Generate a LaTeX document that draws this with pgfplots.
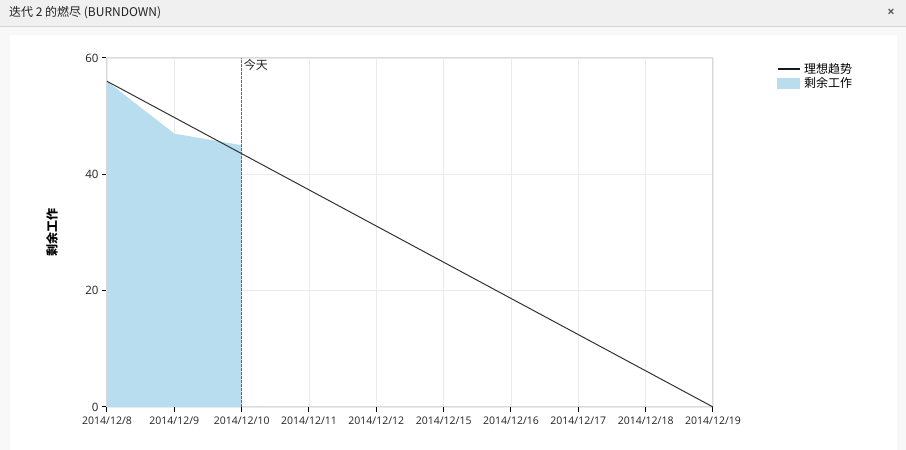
\documentclass[border=0pt]{standalone}
\usepackage{pgfplots}
\pgfplotsset{compat=1.18}
\usepackage{fontspec}
\setmainfont{Open Sans}
\newfontfamily\cjk{Noto Sans CJK SC}
\definecolor{areablue}{RGB}{183,221,238}
\definecolor{outerbg}{RGB}{248,248,248}
\definecolor{titlebg}{RGB}{240,240,240}
\definecolor{titleline}{RGB}{215,215,215}
\definecolor{txt}{RGB}{34,34,34}
\definecolor{gridc}{RGB}{235,235,235}
\definecolor{axc}{RGB}{218,218,218}
\definecolor{todayc}{RGB}{205,60,75}
\begin{document}
\begin{tikzpicture}[x=1pt,y=1pt]
\useasboundingbox (0,0) rectangle (906,450);
\fill[outerbg] (0,0) rectangle (906,450);
\fill[titlebg] (0,423) rectangle (906,450);
\draw[titleline, line width=1pt] (0,423) -- (906,423);
\fill[white] (10,0) rectangle (897,415);
\node[anchor=west, inner sep=0pt, text=txt, font=\cjk\fontsize{12}{14}\selectfont] at (9,437) {迭代 2 的燃尽 (BURNDOWN)};
\node[inner sep=0pt, text=black!65, font=\bfseries\fontsize{13}{14}\selectfont] at (891,437) {×};
\begin{axis}[
  at={(107pt,43pt)}, anchor=south west,
  scale only axis, width=606pt, height=349pt,
  xmin=0, xmax=9, ymin=0, ymax=60,
  xtick={0,...,9},
  xticklabels={2014/12/8,2014/12/9,2014/12/10,2014/12/11,2014/12/12,2014/12/15,2014/12/16,2014/12/17,2014/12/18,2014/12/19},
  ytick={0,20,40,60},
  /pgf/number format/assume math mode=true,
  ticklabel style={font=\fontsize{10.5}{12}\selectfont, text=txt},
  yticklabel style={font=\fontsize{11.5}{12}\selectfont},
  tick align=outside,
  major tick length=5pt,
  major tick style={black, line width=1pt},
  axis line style={axc, line width=1pt},
  grid=major,
  major grid style={gridc, line width=0.8pt},
  xtick pos=bottom, ytick pos=left,
  xticklabel style={yshift=-1pt},
  ylabel={\bfseries 剩余工作},
  ylabel style={font=\cjk\fontsize{12}{14}\selectfont, at={(axis description cs:-0.0908,0.5)}, anchor=center, text=black},
  legend style={at={(rel axis cs:1.1045,0.99)}, anchor=north west, draw=none, fill=none, font=\cjk\fontsize{12}{13}\selectfont, inner sep=0pt, row sep=-0.5pt, nodes={inner sep=1.5pt, text=black}},
  legend cell align=left,
  clip=false,
]
\addplot[fill=areablue, draw=none, forget plot] coordinates {(0,56) (1,47) (2,45)} \closedcycle;
\addplot[todayc, line width=0.8pt, dash pattern=on 2.5pt off 1.5pt, forget plot] coordinates {(2,0) (2,60)};
\addplot[black!80, line width=1pt, forget plot] coordinates {(0,56) (9,0)};
\node[anchor=north west, inner sep=0pt, font=\cjk\fontsize{12}{14}\selectfont, text=txt] at (axis cs:2,60) [xshift=2pt, yshift=-1pt] {今天};
\addlegendimage{legend image code/.code={\draw[black!90, line width=2pt] (0pt,0pt) -- (22pt,0pt); \path (25pt,0pt);}}
\addlegendentry{理想趋势}
\addlegendimage{legend image code/.code={\fill[areablue] (0pt,-5pt) rectangle (22pt,5pt); \path (25pt,0pt);}}
\addlegendentry{剩余工作}
\end{axis}
\end{tikzpicture}
\end{document}
